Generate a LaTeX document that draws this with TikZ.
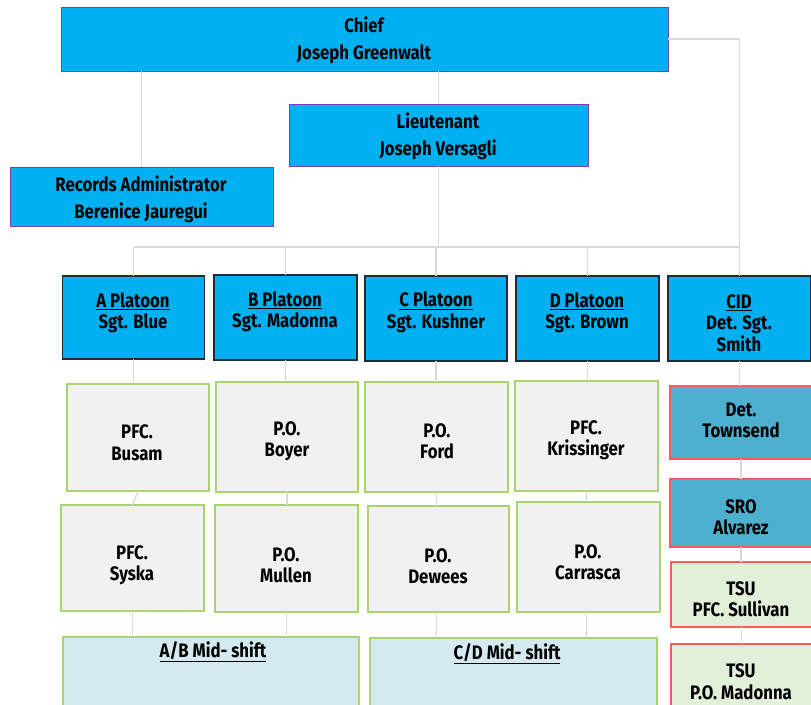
\documentclass[tikz,border=0pt]{standalone}
\usepackage{fontspec}
\setmainfont{Fira Sans}[FakeStretch=0.86]
\definecolor{cblue}{HTML}{00B0F0}
\definecolor{cpurple}{HTML}{7A3FB0}
\definecolor{cdark}{HTML}{1E2A36}
\definecolor{cgray}{HTML}{F1F1F1}
\definecolor{cgreen}{HTML}{A6D56E}
\definecolor{cteal}{HTML}{4DB0CF}
\definecolor{cred}{HTML}{FF5B5B}
\definecolor{clgreen}{HTML}{E2EFD9}
\definecolor{cmid}{HTML}{D4EAF0}
\definecolor{cline}{HTML}{D9D9D9}
\begin{document}
\begin{tikzpicture}[x=1pt,y=-1pt,
  box/.style={rectangle,inner sep=0pt,outer sep=0pt},
  topbox/.style={box,fill=cblue,draw=cpurple,line width=1pt},
  platbox/.style={box,fill=cblue,draw=cdark,line width=1.2pt},
  graybox/.style={box,fill=cgray,draw=cgreen,line width=1.2pt},
  cidbox/.style={box,fill=cteal,draw=cred,line width=1.2pt},
  tsubox/.style={box,fill=clgreen,draw=cred,line width=1.2pt},
  midbox/.style={box,fill=cmid,draw=cgreen,line width=1.2pt},
  lbl/.style={align=center,inner sep=0pt,font=\bfseries\fontsize{19.5}{21.5}\selectfont},
  lbltop/.style={lbl,font=\bfseries\fontsize{19.5}{27}\selectfont},
  conn/.style={draw=cline,line width=1.4pt}]
\path[use as bounding box] (0,0) rectangle (811,704);
% bus coordinate
\coordinate (bus) at (0,247);
% boxes
\node[topbox,minimum width=607pt,minimum height=64pt] (chief) at (364.5,39) {};
\node[topbox,minimum width=299pt,minimum height=62pt] (lt) at (438.5,135) {};
\node[topbox,minimum width=263pt,minimum height=59pt] (rec) at (141.5,196.5) {};
\node[platbox,minimum width=142pt,minimum height=83pt] (pa) at (133.5,317.5) {};
\node[platbox,minimum width=143pt,minimum height=85pt] (pb) at (285.5,317.5) {};
\node[platbox,minimum width=142pt,minimum height=85pt] (pc) at (436,318.5) {};
\node[platbox,minimum width=143pt,minimum height=85pt] (pd) at (587.5,318.5) {};
\node[platbox,minimum width=143pt,minimum height=85pt] (cid) at (739.5,318.5) {};
\node[graybox,minimum width=142pt,minimum height=107pt] (busam) at (138,437.5) {};
\node[graybox,minimum width=142pt,minimum height=110pt] (boyer) at (287,437) {};
\node[graybox,minimum width=143pt,minimum height=110pt] (ford) at (436.5,437) {};
\node[graybox,minimum width=143pt,minimum height=110pt] (kriss) at (586.5,436) {};
\node[cidbox,minimum width=142pt,minimum height=73pt] (towns) at (741,422.5) {};
\node[graybox,minimum width=143pt,minimum height=106pt] (syska) at (132.5,558) {};
\node[graybox,minimum width=143pt,minimum height=107pt] (mullen) at (286.5,558.5) {};
\node[graybox,minimum width=141pt,minimum height=106pt] (dewees) at (438.5,559) {};
\node[graybox,minimum width=143pt,minimum height=110pt] (carr) at (588.5,557) {};
\node[cidbox,minimum width=142pt,minimum height=68pt] (sro) at (741,513) {};
\node[tsubox,minimum width=141pt,minimum height=65pt] (tsu1) at (741.5,594.5) {};
\node[tsubox,minimum width=141pt,minimum height=80pt] (tsu2) at (741.5,684) {};
\node[midbox,minimum width=296pt,minimum height=90pt] (ab) at (211,682) {};
\node[midbox,minimum width=287pt,minimum height=90pt] (cd) at (513.5,683) {};
% connectors
\draw[conn] (chief.south -| rec.north) -- (rec.north);
\draw[conn] (lt.north) -- (lt.north |- chief.south);
\draw[conn] (lt.south) -- (lt.south |- bus);
\draw[conn] (chief.east) -| (cid.north);
\draw[conn] (pa.north |- bus) -- (cid.north |- bus);
\draw[conn] (pa.north |- bus) -- (pa.north);
\draw[conn] (pb.north |- bus) -- (pb.north);
\draw[conn] (pc.north |- bus) -- (pc.north);
\draw[conn] (pd.north |- bus) -- (pd.north);
\draw[conn] (pa.south) -- (pa.south |- busam.north);
\draw[conn] (busam.south) -- (syska.north);
\draw[conn] (syska.south) -- (syska.south |- ab.north);
\draw[conn] (pb.south) -- (pb.south |- boyer.north);
\draw[conn] (boyer.south) -- (boyer.south |- mullen.north);
\draw[conn] (mullen.south) -- (mullen.south |- ab.north);
\draw[conn] (pc.south) -- (pc.south |- ford.north);
\draw[conn] (ford.south) -- (ford.south |- dewees.north);
\draw[conn] (ford.south |- dewees.south) -- (ford.south |- cd.north);
\draw[conn] (pd.south) -- (pd.south |- kriss.north);
\draw[conn] (kriss.south) -- (kriss.south |- carr.north);
\draw[conn] (kriss.south |- carr.south) -- (kriss.south |- cd.north);
\draw[conn] (cid.south) -- (cid.south |- towns.north);
\draw[conn] (towns.south) -- (towns.south |- sro.north);
\draw[conn] (sro.south) -- (sro.south |- tsu1.north);
\draw[conn] (tsu1.south) -- (tsu1.south |- tsu2.north);
% labels
\node[lbltop] (tchief) at (364,40.5) {Chief\\Joseph Greenwalt};
\node[lbltop] (tlt) at (438,136.5) {Lieutenant\\Joseph Versagli};
\node[lbltop] (trec) at (141,199.5) {Records Administrator\\Berenice Jauregui};
\node[lbl] (tpa) at (133,313) {\underline{A Platoon}\\Sgt. Blue};
\node[lbl] (tpb) at (285,312) {\underline{B Platoon}\\Sgt. Madonna};
\node[lbl] (tpc) at (436,312.5) {\underline{C Platoon}\\Sgt. Kushner};
\node[lbl] (tpd) at (587,313) {\underline{D Platoon}\\Sgt. Brown};
\node[lbl] (tcid) at (739,323) {\underline{CID}\\Det. Sgt.\\Smith};
\node[lbl] (tbusam) at (137,442.5) {PFC.\\Busam};
\node[lbl] (tboyer) at (287,441) {P.O.\\Boyer};
\node[lbl] (tford) at (437,441) {P.O.\\Ford};
\node[lbl] (tkriss) at (586,440) {PFC.\\Krissinger};
\node[lbl] (ttowns) at (741,420.5) {Det.\\Townsend};
\node[lbl] (tsyska) at (132,565) {PFC.\\Syska};
\node[lbl] (tmullen) at (286,565) {P.O.\\Mullen};
\node[lbl] (tdewees) at (438,566) {P.O.\\Dewees};
\node[lbl] (tcarr) at (588,562) {P.O.\\Carrasca};
\node[lbl] (tsro) at (741,517) {SRO\\Alvarez};
\node[lbl] (ttsu1) at (741,599) {TSU\\PFC. Sullivan};
\node[lbl] (ttsu2) at (741,681.5) {TSU\\P.O. Madonna};
\node[lbl] (tab) at (213,652) {\underline{A/B Mid- shift}};
\node[lbl] (tcd) at (507,654) {\underline{C/D Mid- shift}};
\end{tikzpicture}
\end{document}
